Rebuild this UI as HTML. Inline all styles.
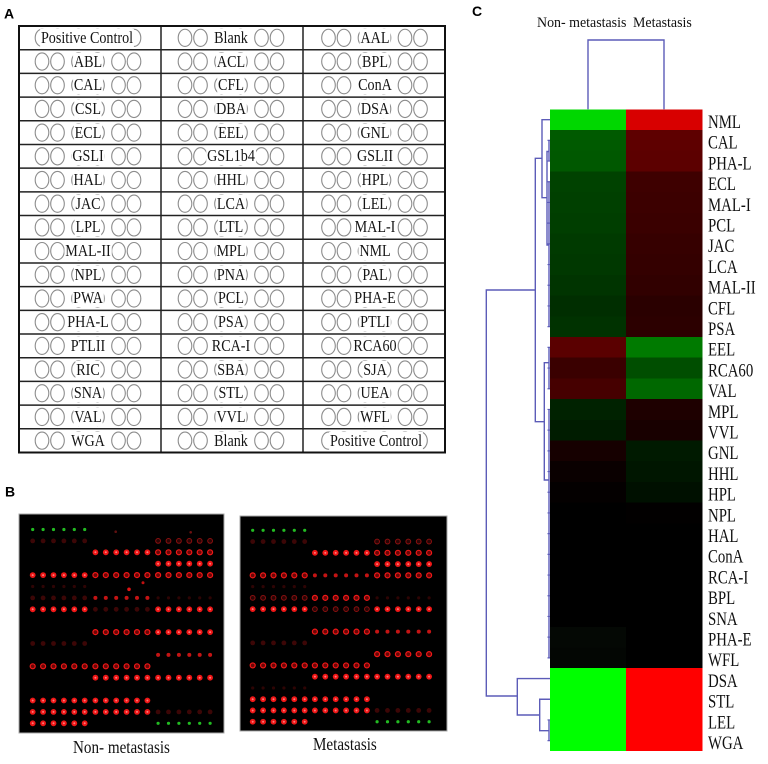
<!DOCTYPE html>
<html><head><meta charset="utf-8">
<style>
body{margin:0;width:768px;height:764px;background:#fff;position:relative;overflow:hidden}
.l{position:absolute;font:17px/18px "Liberation Serif",serif;color:#151515;background:#fff;white-space:nowrap;transform:translate(-50%,-50%) scaleX(.83);padding:0 1px}
</style></head><body>
<svg width="768" height="764" viewBox="0 0 768 764" style="position:absolute;left:0;top:0" xmlns="http://www.w3.org/2000/svg">
<defs>
<g id="c6" fill="none" stroke="#8c8c8c" stroke-width="1.1">
<ellipse cx="-46" cy="0" rx="6.8" ry="8.6"/><ellipse cx="-30.5" cy="0" rx="6.8" ry="8.6"/><ellipse cx="-9.5" cy="0" rx="6.8" ry="8.6"/><ellipse cx="9.5" cy="0" rx="6.8" ry="8.6"/><ellipse cx="30.5" cy="0" rx="6.8" ry="8.6"/><ellipse cx="46" cy="0" rx="6.8" ry="8.6"/>
</g>
<g id="row"><use href="#c6" x="88"/><use href="#c6" x="231"/><use href="#c6" x="374.5"/></g>
<g id="dB"><circle cx="0" r="2.9" fill="#ee1616"/><circle cx="10.4" r="2.9" fill="#ee1616"/><circle cx="20.8" r="2.9" fill="#ee1616"/><circle cx="31.2" r="2.9" fill="#ee1616"/><circle cx="41.6" r="2.9" fill="#ee1616"/><circle cx="52" r="2.9" fill="#ee1616"/>
<circle cx="0" r="1" fill="#ff7a7a"/><circle cx="10.4" r="1" fill="#ff7a7a"/><circle cx="20.8" r="1" fill="#ff7a7a"/><circle cx="31.2" r="1" fill="#ff7a7a"/><circle cx="41.6" r="1" fill="#ff7a7a"/><circle cx="52" r="1" fill="#ff7a7a"/></g>
<g id="dR" fill="#6a0606" stroke="#f01818" stroke-width="1.2"><circle cx="0" r="2.5"/><circle cx="10.4" r="2.5"/><circle cx="20.8" r="2.5"/><circle cx="31.2" r="2.5"/><circle cx="41.6" r="2.5"/><circle cx="52" r="2.5"/></g>
<g id="dr" fill="#2a0404" stroke="#8a1010" stroke-width="1"><circle cx="0" r="2.4"/><circle cx="10.4" r="2.4"/><circle cx="20.8" r="2.4"/><circle cx="31.2" r="2.4"/><circle cx="41.6" r="2.4"/><circle cx="52" r="2.4"/></g>
<g id="dM" fill="#c41414"><circle cx="0" r="2"/><circle cx="10.4" r="2"/><circle cx="20.8" r="2"/><circle cx="31.2" r="2"/><circle cx="41.6" r="2"/><circle cx="52" r="2"/></g>
<g id="dF" fill="#3c0606"><circle cx="0" r="2.4"/><circle cx="10.4" r="2.4"/><circle cx="20.8" r="2.4"/><circle cx="31.2" r="2.4"/><circle cx="41.6" r="2.4"/><circle cx="52" r="2.4"/></g>
<g id="df" fill="#2e0404"><circle cx="0" r="1.6"/><circle cx="10.4" r="1.6"/><circle cx="20.8" r="1.6"/><circle cx="31.2" r="1.6"/><circle cx="41.6" r="1.6"/><circle cx="52" r="1.6"/></g>
<g id="dG" fill="#22bb22"><circle cx="0" r="1.6"/><circle cx="10.4" r="1.6"/><circle cx="20.8" r="1.6"/><circle cx="31.2" r="1.6"/><circle cx="41.6" r="1.6"/><circle cx="52" r="1.6"/></g>
</defs>

<!-- Panel labels -->
<g font-family="Liberation Sans, sans-serif" font-weight="bold" font-size="14" fill="#000">
<text x="4" y="18.3">A</text>
<text x="5" y="496.7">B</text>
<text x="472" y="16">C</text>
</g>

<!-- Panel A: circles -->
<use href="#row" y="37.85"/><use href="#row" y="61.54"/><use href="#row" y="85.24"/><use href="#row" y="108.93"/><use href="#row" y="132.63"/><use href="#row" y="156.32"/><use href="#row" y="180.01"/><use href="#row" y="203.71"/><use href="#row" y="227.40"/><use href="#row" y="251.10"/><use href="#row" y="274.79"/><use href="#row" y="298.49"/><use href="#row" y="322.18"/><use href="#row" y="345.88"/><use href="#row" y="369.57"/><use href="#row" y="393.26"/><use href="#row" y="416.96"/><use href="#row" y="440.65"/>
<g stroke="#222" stroke-width="1.5">
<line x1="19" y1="49.69" x2="445" y2="49.69"/><line x1="19" y1="73.39" x2="445" y2="73.39"/><line x1="19" y1="97.08" x2="445" y2="97.08"/><line x1="19" y1="120.78" x2="445" y2="120.78"/><line x1="19" y1="144.47" x2="445" y2="144.47"/><line x1="19" y1="168.17" x2="445" y2="168.17"/><line x1="19" y1="191.86" x2="445" y2="191.86"/><line x1="19" y1="215.55" x2="445" y2="215.55"/><line x1="19" y1="239.25" x2="445" y2="239.25"/><line x1="19" y1="262.94" x2="445" y2="262.94"/><line x1="19" y1="286.64" x2="445" y2="286.64"/><line x1="19" y1="310.33" x2="445" y2="310.33"/><line x1="19" y1="334.03" x2="445" y2="334.03"/><line x1="19" y1="357.72" x2="445" y2="357.72"/><line x1="19" y1="381.42" x2="445" y2="381.42"/><line x1="19" y1="405.11" x2="445" y2="405.11"/><line x1="19" y1="428.81" x2="445" y2="428.81"/>
<line x1="161" y1="26" x2="161" y2="452.5"/><line x1="303" y1="26" x2="303" y2="452.5"/>
</g>
<rect x="19" y="26" width="426" height="426.5" fill="none" stroke="#111" stroke-width="2"/>

<!-- Panel B images -->
<rect x="19" y="514" width="205" height="219" fill="#000" stroke="#aaa" stroke-width="1"/>
<rect x="240" y="516" width="207" height="215" fill="#000" stroke="#aaa" stroke-width="1"/>
<!-- left image dots -->
<use href="#dG" x="32.7" y="529.5"/>
<use href="#dF" x="32.7" y="540.9"/><use href="#dr" x="158.1" y="540.9"/>
<use href="#dB" x="95.4" y="552.3"/><use href="#dR" x="158.1" y="552.3"/>
<use href="#dB" x="158.1" y="563.7"/>
<use href="#dB" x="32.7" y="575.1"/><use href="#dR" x="95.4" y="575.1"/><use href="#dR" x="158.1" y="575.1"/>
<use href="#df" x="32.7" y="586.5"/>
<use href="#dF" x="32.7" y="597.9"/><use href="#dM" x="95.4" y="597.9"/><use href="#df" x="158.1" y="597.9"/>
<use href="#dB" x="32.7" y="609.3"/><use href="#dF" x="95.4" y="609.3"/><use href="#dB" x="158.1" y="609.3"/>
<use href="#dR" x="95.4" y="632.1"/><use href="#dB" x="158.1" y="632.1"/>
<use href="#dF" x="32.7" y="643.5"/>
<use href="#dM" x="158.1" y="654.9"/>
<use href="#dR" x="32.7" y="666.3"/><use href="#dR" x="95.4" y="666.3"/>
<use href="#dB" x="95.4" y="677.7"/><use href="#dB" x="158.1" y="677.7"/>
<use href="#dB" x="32.7" y="700.5"/><use href="#dB" x="95.4" y="700.5"/>
<use href="#dB" x="32.7" y="711.9"/><use href="#dB" x="95.4" y="711.9"/><use href="#dF" x="158.1" y="711.9"/>
<use href="#dB" x="32.7" y="723.3"/><use href="#dG" x="158.1" y="723.3"/>
<circle cx="129" cy="589.3" r="1.8" fill="#e01414"/><circle cx="143" cy="582.7" r="1.5" fill="#c01010"/><circle cx="115.7" cy="531.7" r="1.3" fill="#601010"/><circle cx="190.7" cy="532.3" r="1.3" fill="#701010"/>
<!-- right image dots -->
<use href="#dG" x="252.7" y="530.3"/>
<use href="#dF" x="252.7" y="541.56"/><use href="#dr" x="377.1" y="541.56"/>
<use href="#dB" x="314.9" y="552.82"/><use href="#dR" x="377.1" y="552.82"/>
<use href="#dB" x="377.1" y="564.08"/>
<use href="#dR" x="252.7" y="575.34"/><use href="#dM" x="314.9" y="575.34"/><use href="#dR" x="377.1" y="575.34"/>
<use href="#df" x="252.7" y="586.6"/>
<use href="#dr" x="252.7" y="597.86"/><use href="#dR" x="314.9" y="597.86"/><use href="#df" x="377.1" y="597.86"/>
<use href="#dB" x="252.7" y="609.12"/><use href="#dr" x="314.9" y="609.12"/><use href="#dB" x="377.1" y="609.12"/>
<use href="#dR" x="314.9" y="631.64"/><use href="#dM" x="377.1" y="631.64"/>
<use href="#dF" x="252.7" y="642.9"/>
<use href="#dR" x="377.1" y="654.16"/>
<use href="#dR" x="252.7" y="665.42"/><use href="#dR" x="314.9" y="665.42"/>
<use href="#dB" x="314.9" y="676.68"/><use href="#dB" x="377.1" y="676.68"/>
<use href="#df" x="252.7" y="687.94"/>
<use href="#dB" x="252.7" y="699.2"/><use href="#dB" x="314.9" y="699.2"/>
<use href="#dB" x="252.7" y="710.46"/><use href="#dB" x="314.9" y="710.46"/><use href="#dF" x="377.1" y="710.46"/>
<use href="#dB" x="252.7" y="721.72"/><use href="#dG" x="377.1" y="721.72"/>

<g font-family="Liberation Serif, serif" font-size="18" fill="#111">
<text transform="translate(73 753) scale(.84 1)">Non- metastasis</text>
<text transform="translate(313 750) scale(.84 1)">Metastasis</text>
</g>

<!-- Panel C heatmap -->
<g shape-rendering="crispEdges">
<rect x="550" y="109.3" width="76" height="21" fill="#00d700"/><rect x="626" y="109.3" width="76.3" height="21" fill="#d80000"/>
<rect x="550" y="130" width="76" height="21" fill="#005a00"/><rect x="626" y="130" width="76.3" height="21" fill="#5e0000"/>
<rect x="550" y="150.7" width="76" height="21" fill="#005800"/><rect x="626" y="150.7" width="76.3" height="21" fill="#5c0000"/>
<rect x="550" y="171.4" width="76" height="21" fill="#004200"/><rect x="626" y="171.4" width="76.3" height="21" fill="#3e0000"/>
<rect x="550" y="192.1" width="76" height="21" fill="#004000"/><rect x="626" y="192.1" width="76.3" height="21" fill="#3c0000"/>
<rect x="550" y="212.8" width="76" height="21" fill="#003e00"/><rect x="626" y="212.8" width="76.3" height="21" fill="#3a0000"/>
<rect x="550" y="233.5" width="76" height="21" fill="#003a00"/><rect x="626" y="233.5" width="76.3" height="21" fill="#360000"/>
<rect x="550" y="254.2" width="76" height="21" fill="#003800"/><rect x="626" y="254.2" width="76.3" height="21" fill="#340000"/>
<rect x="550" y="274.9" width="76" height="21" fill="#003400"/><rect x="626" y="274.9" width="76.3" height="21" fill="#310000"/>
<rect x="550" y="295.6" width="76" height="21" fill="#002e00"/><rect x="626" y="295.6" width="76.3" height="21" fill="#2a0000"/>
<rect x="550" y="316.3" width="76" height="21" fill="#003200"/><rect x="626" y="316.3" width="76.3" height="21" fill="#2c0000"/>
<rect x="550" y="337" width="76" height="21" fill="#5a0000"/><rect x="626" y="337" width="76.3" height="21" fill="#007a00"/>
<rect x="550" y="357.7" width="76" height="21" fill="#3a0000"/><rect x="626" y="357.7" width="76.3" height="21" fill="#004e00"/>
<rect x="550" y="378.4" width="76" height="21" fill="#460000"/><rect x="626" y="378.4" width="76.3" height="21" fill="#006800"/>
<rect x="550" y="399.1" width="76" height="21" fill="#002200"/><rect x="626" y="399.1" width="76.3" height="21" fill="#1e0000"/>
<rect x="550" y="419.8" width="76" height="21" fill="#001c00"/><rect x="626" y="419.8" width="76.3" height="21" fill="#180000"/>
<rect x="550" y="440.5" width="76" height="21" fill="#160000"/><rect x="626" y="440.5" width="76.3" height="21" fill="#001a00"/>
<rect x="550" y="461.2" width="76" height="21" fill="#0a0000"/><rect x="626" y="461.2" width="76.3" height="21" fill="#001600"/>
<rect x="550" y="481.9" width="76" height="21" fill="#040000"/><rect x="626" y="481.9" width="76.3" height="21" fill="#001000"/>
<rect x="550" y="502.6" width="76" height="21" fill="#000000"/><rect x="626" y="502.6" width="76.3" height="21" fill="#020000"/>
<rect x="550" y="523.3" width="76" height="124.2" fill="#000000"/><rect x="626" y="523.3" width="76.3" height="145" fill="#000000"/>
<rect x="550" y="626.8" width="76" height="21" fill="#040804"/>
<rect x="550" y="647.5" width="76" height="21" fill="#030603"/>
<rect x="550" y="668.2" width="76" height="82.8" fill="#00ff00"/><rect x="626" y="668.2" width="76.3" height="82.8" fill="#ff0000"/>
</g>

<!-- Dendrograms -->
<g stroke="#5c5cb8" stroke-width="1.4" fill="none">
<path d="M588 109.3V40H664V109.3"/>
<path d="M535.3 290H486.3V696H517.3"/>
<path d="M542 158.3H535.3V421.7H544.3"/>
<path d="M550 119.65H542V197.7H547"/>
<path d="M549 151.5H547V245H549"/>
<path d="M549 140.35V161.05M549 181.75V326.65"/>
<path d="M549 362.7H544.3V480H549"/>
<path d="M549 347.35V388.75M549 409.45V657.85"/>
<path d="M550 678.55H517.3V715H539.7"/>
<path d="M550 699.25H539.7V730.7H549V719.95M549 730.7V740.65"/>
</g>
<g stroke="#5c5cb8" stroke-width="1.2">
<path d="M547.5 140.35H550M547.5 161.05H550M547.5 181.75H550M547.5 202.45H550M547.5 223.15H550M547.5 243.85H550M547.5 264.55H550M547.5 285.25H550M547.5 305.95H550M547.5 326.65H550M547.5 347.35H550M547.5 368.05H550M547.5 388.75H550M547.5 409.45H550M547.5 430.15H550M547.5 450.85H550M547.5 471.55H550M547.5 492.25H550M547.5 512.95H550M547.5 533.65H550M547.5 554.35H550M547.5 575.05H550M547.5 595.75H550M547.5 616.45H550M547.5 637.15H550M547.5 657.85H550M547.5 719.95H550M547.5 740.65H550"/>
</g>

<!-- Panel C labels -->
<g font-family="Liberation Serif, serif" font-size="15" fill="#111">
<text transform="translate(537 27) scale(.93 1)">Non- metastasis</text>
<text transform="translate(633 27) scale(.93 1)">Metastasis</text>
</g>
<g font-family="Liberation Serif, serif" font-size="19" fill="#111">
<text transform="translate(708 127.95) scale(.78 1)">NML</text>
<text transform="translate(708 148.65) scale(.78 1)">CAL</text>
<text transform="translate(708 169.35) scale(.78 1)">PHA-L</text>
<text transform="translate(708 190.05) scale(.78 1)">ECL</text>
<text transform="translate(708 210.75) scale(.78 1)">MAL-I</text>
<text transform="translate(708 231.45) scale(.78 1)">PCL</text>
<text transform="translate(708 252.15) scale(.78 1)">JAC</text>
<text transform="translate(708 272.85) scale(.78 1)">LCA</text>
<text transform="translate(708 293.55) scale(.78 1)">MAL-II</text>
<text transform="translate(708 314.25) scale(.78 1)">CFL</text>
<text transform="translate(708 334.95) scale(.78 1)">PSA</text>
<text transform="translate(708 355.65) scale(.78 1)">EEL</text>
<text transform="translate(708 376.35) scale(.78 1)">RCA60</text>
<text transform="translate(708 397.05) scale(.78 1)">VAL</text>
<text transform="translate(708 417.75) scale(.78 1)">MPL</text>
<text transform="translate(708 438.45) scale(.78 1)">VVL</text>
<text transform="translate(708 459.15) scale(.78 1)">GNL</text>
<text transform="translate(708 479.85) scale(.78 1)">HHL</text>
<text transform="translate(708 500.55) scale(.78 1)">HPL</text>
<text transform="translate(708 521.25) scale(.78 1)">NPL</text>
<text transform="translate(708 541.95) scale(.78 1)">HAL</text>
<text transform="translate(708 562.65) scale(.78 1)">ConA</text>
<text transform="translate(708 583.35) scale(.78 1)">RCA-I</text>
<text transform="translate(708 604.05) scale(.78 1)">BPL</text>
<text transform="translate(708 624.75) scale(.78 1)">SNA</text>
<text transform="translate(708 645.45) scale(.78 1)">PHA-E</text>
<text transform="translate(708 666.15) scale(.78 1)">WFL</text>
<text transform="translate(708 686.85) scale(.78 1)">DSA</text>
<text transform="translate(708 707.55) scale(.78 1)">STL</text>
<text transform="translate(708 728.25) scale(.78 1)">LEL</text>
<text transform="translate(708 748.95) scale(.78 1)">WGA</text>
</g>
</svg>

<!-- Panel A labels -->
<span class="l" style="left:87px;top:37.85px">Positive Control</span>
<span class="l" style="left:88px;top:61.54px">ABL</span>
<span class="l" style="left:88px;top:85.24px">CAL</span>
<span class="l" style="left:88px;top:108.93px">CSL</span>
<span class="l" style="left:88px;top:132.63px">ECL</span>
<span class="l" style="left:88px;top:156.32px">GSLI</span>
<span class="l" style="left:88px;top:180.01px">HAL</span>
<span class="l" style="left:88px;top:203.71px">JAC</span>
<span class="l" style="left:88px;top:227.40px">LPL</span>
<span class="l" style="left:88px;top:251.10px">MAL-II</span>
<span class="l" style="left:88px;top:274.79px">NPL</span>
<span class="l" style="left:88px;top:298.49px">PWA</span>
<span class="l" style="left:88px;top:322.18px">PHA-L</span>
<span class="l" style="left:88px;top:345.88px">PTLII</span>
<span class="l" style="left:88px;top:369.57px">RIC</span>
<span class="l" style="left:88px;top:393.26px">SNA</span>
<span class="l" style="left:88px;top:416.96px">VAL</span>
<span class="l" style="left:88px;top:440.65px">WGA</span>

<span class="l" style="left:231px;top:37.85px">Blank</span>
<span class="l" style="left:231px;top:61.54px">ACL</span>
<span class="l" style="left:231px;top:85.24px">CFL</span>
<span class="l" style="left:231px;top:108.93px">DBA</span>
<span class="l" style="left:231px;top:132.63px">EEL</span>
<span class="l" style="left:231px;top:156.32px">GSL1b4</span>
<span class="l" style="left:231px;top:180.01px">HHL</span>
<span class="l" style="left:231px;top:203.71px">LCA</span>
<span class="l" style="left:231px;top:227.40px">LTL</span>
<span class="l" style="left:231px;top:251.10px">MPL</span>
<span class="l" style="left:231px;top:274.79px">PNA</span>
<span class="l" style="left:231px;top:298.49px">PCL</span>
<span class="l" style="left:231px;top:322.18px">PSA</span>
<span class="l" style="left:231px;top:345.88px">RCA-I</span>
<span class="l" style="left:231px;top:369.57px">SBA</span>
<span class="l" style="left:231px;top:393.26px">STL</span>
<span class="l" style="left:231px;top:416.96px">VVL</span>
<span class="l" style="left:231px;top:440.65px">Blank</span>

<span class="l" style="left:374.5px;top:37.85px">AAL</span>
<span class="l" style="left:374.5px;top:61.54px">BPL</span>
<span class="l" style="left:374.5px;top:85.24px">ConA</span>
<span class="l" style="left:374.5px;top:108.93px">DSA</span>
<span class="l" style="left:374.5px;top:132.63px">GNL</span>
<span class="l" style="left:374.5px;top:156.32px">GSLII</span>
<span class="l" style="left:374.5px;top:180.01px">HPL</span>
<span class="l" style="left:374.5px;top:203.71px">LEL</span>
<span class="l" style="left:374.5px;top:227.40px">MAL-I</span>
<span class="l" style="left:374.5px;top:251.10px">NML</span>
<span class="l" style="left:374.5px;top:274.79px">PAL</span>
<span class="l" style="left:374.5px;top:298.49px">PHA-E</span>
<span class="l" style="left:374.5px;top:322.18px">PTLI</span>
<span class="l" style="left:374.5px;top:345.88px">RCA60</span>
<span class="l" style="left:374.5px;top:369.57px">SJA</span>
<span class="l" style="left:374.5px;top:393.26px">UEA</span>
<span class="l" style="left:374.5px;top:416.96px">WFL</span>
<span class="l" style="left:376px;top:440.65px">Positive Control</span>
</body></html>
